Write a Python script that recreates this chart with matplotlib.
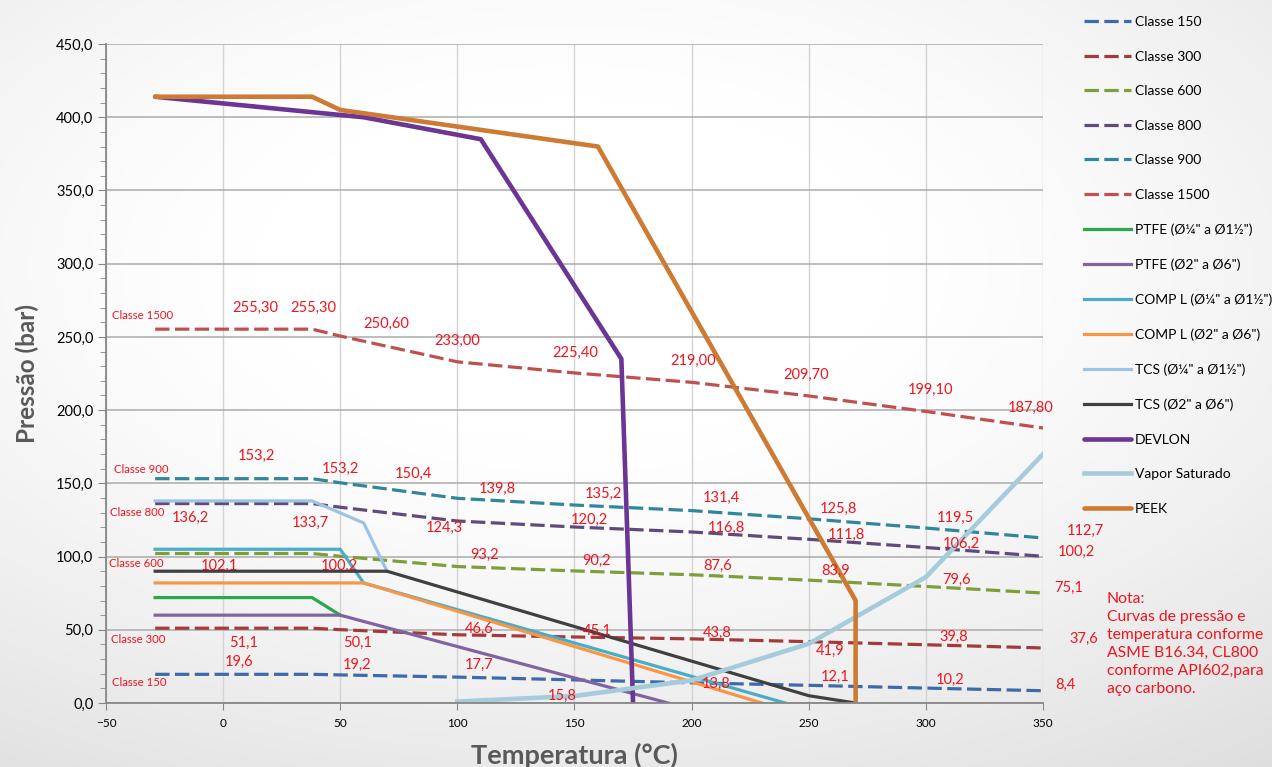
import numpy as np
import matplotlib
matplotlib.use("Agg")
import matplotlib.pyplot as plt
from matplotlib.ticker import MultipleLocator, FuncFormatter

plt.rcParams['font.family'] = ['Lato', 'DejaVu Sans']

# --- dados (ASME B16.34) ---
temp_classes = [-29, 38, 50, 100, 150, 200, 250, 300, 350]
classe_150 = [19.6, 19.6, 19.2, 17.7, 15.8, 13.8, 12.1, 10.2, 8.4]
classe_300 = [51.1, 51.1, 50.1, 46.6, 45.1, 43.8, 41.9, 39.8, 37.6]
classe_600 = [102.1, 102.1, 100.2, 93.2, 90.2, 87.6, 83.9, 79.6, 75.1]
classe_800 = [136.2, 136.2, 133.7, 124.3, 120.2, 116.8, 111.8, 106.2, 100.2]
classe_900 = [153.2, 153.2, 150.4, 139.8, 135.2, 131.4, 125.8, 119.5, 112.7]
classe_1500 = [255.3, 255.3, 250.6, 233.0, 225.4, 219.0, 209.7, 199.1, 187.8]

# materiais de vedação
ptfe_p_t = [-29, 38, 50]
ptfe_p_p = [72, 72, 60]
ptfe_g_t = [-29, 50, 190]
ptfe_g_p = [60, 60, 0]
compl_p_t = [-29, 50, 60, 240]
compl_p_p = [105, 105, 82, 0]
compl_g_t = [-29, 60, 230]
compl_g_p = [82, 82, 0]
tcs_p_t = [-29, 38, 60, 70]
tcs_p_p = [138, 138, 123, 90]
tcs_g_t = [-29, 70, 250, 270]
tcs_g_p = [90, 90, 5, 0]
devlon_t = [-29, 60, 110, 170, 175]
devlon_p = [414, 400, 385, 235, 0]
vapor_t = [100, 150, 200, 250, 300, 350]
vapor_p = [1.0, 4.8, 15.5, 40.5, 86.0, 170.0]
peek_t = [-29, 38, 50, 160, 270, 270]
peek_p = [414, 414, 405, 380, 70, 0]

# posições dos rótulos de dados: (índice do ponto, x, y)
lab_1500 = [(0, 13.6, 269.7), (1, 38.4, 269.7), (2, 69.5, 258.8), (3, 99.8, 247.2),
            (4, 150.2, 239.0), (5, 200.6, 233.5), (6, 248.8, 224.0), (7, 301.8, 213.7),
            (8, 344.9, 201.4)]
lab_900 = [(0, 14.3, 168.9), (1, 50.3, 159.8), (2, 81.2, 156.8), (3, 116.9, 146.1),
           (4, 162.2, 142.7), (5, 212.5, 140.0), (6, 262.5, 132.5), (7, 312.4, 126.3),
           (8, 367.9, 117.5)]
lab_800 = [(0, -14.1, 126.3), (2, 37.1, 122.9), (3, 94.3, 119.5), (4, 156.2, 125.0),
           (5, 214.7, 119.5), (6, 265.9, 114.7), (7, 315.0, 108.6), (8, 364.1, 103.1)]
lab_600 = [(0, -1.8, 93.6), (2, 49.5, 93.6), (3, 111.8, 101.1), (4, 159.6, 97.0),
           (5, 211.3, 93.6), (6, 261.6, 90.1), (7, 312.9, 84.0), (8, 361.1, 78.5)]
lab_300 = [(0, 8.9, 41.0), (2, 57.2, 41.0), (3, 109.2, 50.5), (4, 159.6, 49.2),
           (5, 210.8, 47.8), (6, 259.1, 35.5), (7, 312.0, 45.1), (8, 367.5, 43.7)]
lab_150 = [(0, 6.8, 28.0), (2, 57.2, 25.9), (3, 109.2, 25.9), (4, 144.7, 4.8),
           (5, 210.4, 13.0), (6, 261.2, 17.8), (7, 310.3, 15.7), (8, 359.4, 12.3)]

nomes_classes = [("Classe 1500", -34.2, 264.3), ("Classe 900", -35.1, 159.8),
                 ("Classe 800", -36.8, 130.4), ("Classe 600", -37.2, 95.6),
                 ("Classe 300", -36.3, 43.7), ("Classe 150", -35.9, 13.7)]

nota = "Nota:\nCurvas de pressão e\ntemperatura conforme\nASME B16.34, CL800\nconforme API602,para\naço carbono."

RED = '#F0141E'

fig = plt.figure(figsize=(12.72, 7.67), dpi=100)

# fundo com leve degradê
bg = fig.add_axes([0, 0, 1, 1], zorder=-10)
yy, xx = np.mgrid[0:1:200j, 0:1:330j]
dist = np.sqrt(((xx - 0.45) / 1.0) ** 2 + ((yy - 0.35) / 0.9) ** 2)
shade = 1.0 - 0.22 * np.clip(dist - 0.25, 0, None) ** 1.3
bg.imshow(np.dstack([shade] * 3), extent=[0, 1, 0, 1], aspect='auto', origin='upper')
bg.axis('off')

ax = fig.add_axes([0.0833, 0.0834, 0.7367, 0.8592])
ax.set_facecolor('none')

dash = (0, (4.5, 1.7))
ax.plot(temp_classes, classe_150, color='#3C6AAB', lw=2.3, ls=dash, label='Classe 150')
ax.plot(temp_classes, classe_300, color='#A33B3B', lw=2.3, ls=dash, label='Classe 300')
ax.plot(temp_classes, classe_600, color='#7E9E3A', lw=2.3, ls=dash, label='Classe 600')
ax.plot(temp_classes, classe_800, color='#604A7B', lw=2.3, ls=dash, label='Classe 800')
ax.plot(temp_classes, classe_900, color='#31859C', lw=2.3, ls=dash, label='Classe 900')
ax.plot(temp_classes, classe_1500, color='#C0504D', lw=2.3, ls=dash, label='Classe 1500')

ax.plot(ptfe_p_t, ptfe_p_p, color='#2AA84A', lw=2.3, label='PTFE (Ø¼" a Ø1½")')
ax.plot(ptfe_g_t, ptfe_g_p, color='#8064A2', lw=2.3, label='PTFE (Ø2" a Ø6")')
ax.plot(compl_p_t, compl_p_p, color='#4BACC6', lw=2.3, label='COMP L (Ø¼" a Ø1½")')
ax.plot(compl_g_t, compl_g_p, color='#F79646', lw=2.3, label='COMP L (Ø2" a Ø6")')
ax.plot(tcs_p_t, tcs_p_p, color='#9DC3E6', lw=2.3, label='TCS (Ø¼" a Ø1½")')
ax.plot(tcs_g_t, tcs_g_p, color='#404040', lw=2.3, label='TCS (Ø2" a Ø6")')
ax.plot(devlon_t, devlon_p, color='#6A3594', lw=3.3, solid_capstyle='round', label='DEVLON')
ax.plot(vapor_t, vapor_p, color='#A5CCDA', lw=3.3, label='Vapor Saturado')
ax.plot(peek_t, peek_p, color='#CD7A32', lw=3.3, solid_capstyle='round', label='PEEK')

# rótulos de dados
for vals, labs, fmt in [(classe_1500, lab_1500, '{:.2f}'), (classe_900, lab_900, '{:.1f}'),
                        (classe_800, lab_800, '{:.1f}'), (classe_600, lab_600, '{:.1f}'),
                        (classe_300, lab_300, '{:.1f}'), (classe_150, lab_150, '{:.1f}')]:
    for i, lx, ly in labs:
        ax.text(lx, ly, fmt.format(vals[i]).replace('.', ','), color=RED,
                fontsize=10.5, ha='center', va='center', clip_on=False)

for nome, lx, ly in nomes_classes:
    ax.text(lx, ly, nome, color=RED, fontsize=8.2, ha='center', va='center')

ax.set_xlim(-50, 350)
ax.set_ylim(0, 450)
ax.xaxis.set_major_locator(MultipleLocator(50))
ax.yaxis.set_major_locator(MultipleLocator(50))
ax.yaxis.set_minor_locator(MultipleLocator(10))
ax.yaxis.set_major_formatter(FuncFormatter(lambda v, p: f'{v:.1f}'.replace('.', ',')))

ax.grid(axis='y', which='major', color='#ABABAB', lw=1.1)
ax.grid(axis='x', which='major', color='#D4D4D4', lw=1.0)
ax.set_axisbelow(True)

for s in ['top', 'right']:
    ax.spines[s].set_visible(False)
for s in ['left', 'bottom']:
    ax.spines[s].set_color('#878787')
    ax.spines[s].set_linewidth(1.3)

ax.tick_params(axis='y', which='major', length=6, color='#878787', labelsize=10.5, pad=3)
ax.tick_params(axis='y', which='minor', length=4, color='#878787')
ax.tick_params(axis='x', which='major', length=5, color='#878787', labelsize=8.5, pad=6)

ax.set_ylabel('Pressão (bar)', fontsize=17.5, fontweight='bold', color='#595959')
ax.yaxis.set_label_coords(-0.071, 0.5)
ax.set_xlabel('Temperatura (°C)', fontsize=19.5, fontweight='bold', color='#595959')
ax.xaxis.set_label_coords(0.5, -0.06)

fig.legend(loc='upper left', bbox_to_anchor=(0.8475, 0.986), frameon=False, fontsize=10,
           handlelength=3.4, handletextpad=0.3, labelspacing=1.62, borderaxespad=0)

fig.text(0.870, 0.228, nota, color=RED, fontsize=11.3, va='top', ha='left', linespacing=1.36)

fig.savefig('out.png', dpi=100)
